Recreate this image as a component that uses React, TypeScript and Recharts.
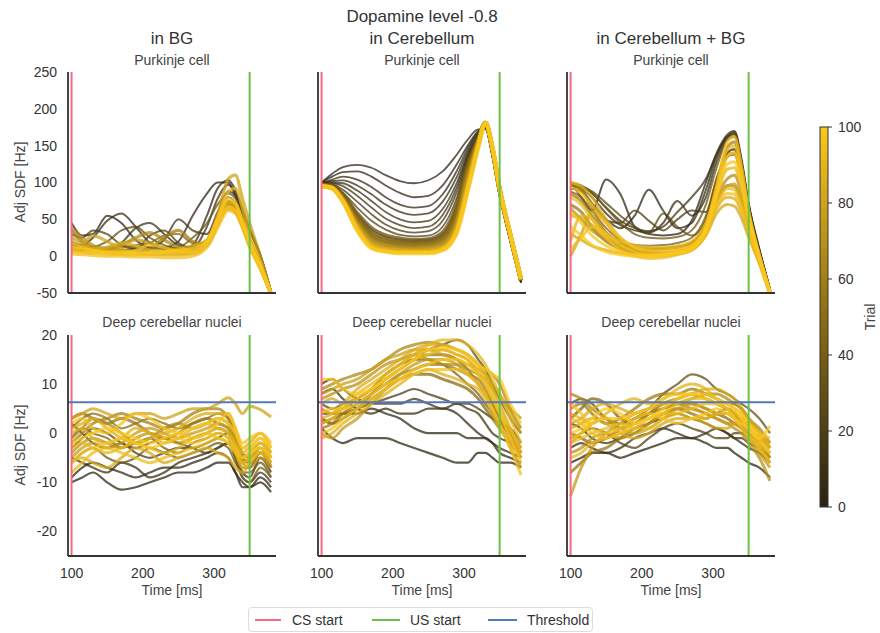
import React from "react";
import { LineChart, Line, XAxis, YAxis, ReferenceLine } from "recharts";

// sample times (ms) shared by every trial curve
const time = [100, 115, 130, 150, 170, 190, 210, 230, 250, 270, 290, 305, 320, 330, 340, 350, 365, 380];

// ---- Purkinje cell, dopamine in BG
const bgPurkinjeTrials = [2, 6, 10, 14, 20, 30, 45, 60, 70, 80, 88, 92, 95, 100, 85, 97, 75, 65, 35];
const bgPurkinje = [
  [45, 28, 30, 55, 45, 22, 12, 12, 20, 55, 85, 100, 100, 82, 60, 35, 0, -48],
  [20, 15, 25, 48, 58, 40, 18, 10, 8, 15, 55, 92, 103, 90, 65, 38, 2, -48],
  [10, 12, 10, 8, 18, 38, 45, 30, 15, 12, 40, 78, 97, 85, 62, 35, 0, -48],
  [15, 12, 8, 6, 8, 10, 12, 22, 50, 35, 30, 60, 88, 82, 60, 35, 0, -48],
  [30, 25, 35, 30, 15, 10, 28, 35, 18, 10, 22, 55, 80, 72, 50, 22, -10, -50],
  [12, 10, 12, 20, 35, 40, 25, 15, 10, 10, 20, 50, 75, 68, 45, 18, -12, -50],
  [15, 12, 10, 10, 12, 15, 18, 28, 30, 18, 18, 48, 72, 65, 44, 18, -14, -50],
  [35, 20, 12, 8, 6, 5, 10, 25, 35, 20, 15, 45, 70, 62, 40, 15, -15, -52],
  [38, 25, 15, 10, 8, 6, 5, 6, 6, 6, 15, 45, 70, 65, 44, 18, -14, -52],
  [5, 15, 28, 20, 10, 5, 3, 3, 3, 5, 18, 55, 105, 110, 78, 45, 0, -50],
  [8, 6, 5, 4, 3, 3, 2, 2, 2, 3, 15, 42, 68, 62, 42, 15, -15, -52],
  [20, 12, 8, 5, 4, 8, 15, 12, 6, 5, 18, 52, 88, 92, 65, 30, -8, -50],
  [3, 2, 1, 0, 0, -1, -1, -2, -2, 0, 12, 38, 62, 58, 38, 12, -18, -52],
  [12, 10, 8, 6, 6, 5, 5, 6, 8, 10, 20, 50, 78, 72, 48, 20, -12, -50],
  [15, 12, 10, 12, 18, 14, 8, 6, 10, 14, 22, 50, 74, 70, 46, 18, -13, -51],
  [6, 5, 4, 3, 2, 2, 3, 4, 5, 6, 16, 44, 66, 62, 42, 16, -15, -52],
  [25, 18, 10, 8, 15, 22, 18, 10, 8, 8, 18, 48, 72, 68, 45, 18, -13, -51],
  [10, 9, 8, 10, 15, 25, 32, 22, 12, 8, 15, 45, 65, 60, 40, 14, -16, -52],
  [8, 8, 9, 12, 14, 12, 10, 10, 12, 25, 45, 70, 85, 78, 55, 25, -8, -50],
];

// ---- Purkinje cell, dopamine in cerebellum
const cbPurkinjeTrials = [1, 3, 5, 7, 9, 12, 15, 20, 30, 45, 60, 75, 88, 100, 38, 52, 68, 82, 94];
const cbPurkinje = [
  [100, 112, 121, 124, 120, 110, 102, 99, 103, 115, 138, 158, 172, 172, 135, 82, 20, -36],
  [100, 108, 114, 115, 108, 96, 86, 80, 82, 96, 125, 150, 170, 174, 136, 83, 21, -36],
  [99, 104, 108, 104, 94, 80, 70, 66, 68, 84, 116, 146, 168, 176, 138, 84, 22, -35],
  [99, 102, 103, 96, 84, 70, 60, 56, 58, 74, 108, 142, 167, 177, 139, 85, 23, -35],
  [98, 100, 99, 89, 75, 60, 50, 46, 48, 64, 100, 138, 165, 178, 140, 86, 24, -34],
  [98, 99, 95, 82, 66, 51, 42, 38, 40, 56, 94, 136, 164, 179, 141, 88, 25, -34],
  [97, 97, 90, 74, 57, 43, 35, 32, 34, 48, 88, 134, 163, 179, 142, 88, 26, -33],
  [97, 96, 86, 66, 48, 36, 29, 27, 28, 40, 80, 130, 162, 180, 143, 89, 27, -33],
  [96, 95, 83, 58, 38, 28, 24, 22, 23, 32, 70, 124, 160, 180, 143, 89, 27, -33],
  [96, 94, 80, 52, 30, 21, 18, 17, 18, 25, 60, 118, 158, 180, 144, 90, 28, -32],
  [96, 93, 78, 46, 24, 16, 13, 12, 13, 18, 50, 110, 156, 181, 145, 90, 28, -32],
  [95, 93, 76, 42, 18, 11, 9, 8, 9, 13, 42, 100, 153, 181, 146, 91, 29, -32],
  [95, 92, 75, 38, 14, 8, 6, 6, 6, 10, 36, 92, 150, 181, 147, 92, 30, -31],
  [95, 92, 74, 35, 11, 6, 4, 4, 4, 8, 32, 88, 148, 180, 148, 93, 30, -31],
  [96, 95, 82, 55, 34, 25, 21, 20, 21, 28, 65, 121, 159, 180, 143, 89, 27, -33],
  [96, 94, 79, 49, 27, 19, 16, 15, 16, 22, 55, 114, 157, 180, 144, 90, 28, -32],
  [95, 93, 77, 44, 21, 14, 11, 10, 11, 16, 46, 105, 155, 181, 145, 90, 28, -32],
  [95, 92, 75, 40, 16, 10, 8, 7, 8, 12, 39, 96, 152, 181, 146, 91, 29, -31],
  [95, 92, 74, 36, 12, 7, 5, 5, 5, 9, 34, 90, 149, 181, 147, 92, 30, -31],
];

// ---- Purkinje cell, dopamine in cerebellum + BG
const bothPurkinjeTrials = [2, 5, 9, 13, 18, 25, 40, 55, 68, 78, 82, 86, 90, 93, 97, 100, 60, 72, 88, 95, 99, 35];
const bothPurkinje = [
  [100, 80, 62, 104, 84, 40, 30, 28, 30, 48, 100, 140, 165, 170, 132, 72, 10, -45],
  [98, 90, 72, 50, 38, 55, 90, 62, 38, 45, 90, 135, 162, 168, 128, 70, 8, -45],
  [96, 92, 80, 58, 42, 35, 32, 45, 75, 55, 80, 128, 158, 162, 124, 68, 8, -46],
  [95, 94, 85, 66, 48, 38, 34, 40, 60, 80, 105, 138, 162, 166, 128, 70, 8, -45],
  [92, 88, 70, 48, 45, 62, 48, 35, 50, 62, 60, 100, 140, 145, 110, 60, 4, -47],
  [97, 95, 88, 72, 55, 40, 32, 58, 40, 28, 50, 105, 135, 138, 108, 58, 5, -47],
  [88, 80, 62, 38, 22, 15, 14, 15, 18, 25, 55, 105, 140, 145, 110, 58, 2, -48],
  [70, 60, 40, 20, 10, 6, 8, 10, 12, 18, 45, 95, 135, 140, 105, 55, 0, -48],
  [100, 90, 65, 30, 12, 5, 3, 4, 6, 12, 38, 80, 105, 110, 85, 45, -2, -50],
  [0, 30, 60, 45, 20, 8, 4, 4, 5, 10, 35, 75, 95, 98, 75, 40, -4, -50],
  [30, 22, 14, 8, 4, 2, 2, 3, 5, 9, 28, 58, 70, 68, 52, 26, -10, -52],
  [55, 52, 42, 25, 10, 2, 0, 1, 3, 8, 30, 65, 80, 78, 60, 30, -8, -52],
  [20, 55, 50, 30, 20, 15, 12, 12, 14, 20, 45, 85, 118, 120, 92, 48, -4, -50],
  [80, 70, 50, 25, 8, 0, -3, -2, 2, 8, 32, 70, 92, 90, 70, 36, -5, -50],
  [95, 85, 70, 45, 25, 12, 8, 8, 10, 15, 40, 95, 155, 162, 122, 62, 2, -47],
  [40, 28, 15, 6, 2, 0, 0, 2, 4, 10, 36, 85, 135, 140, 105, 54, -2, -50],
  [85, 75, 55, 32, 18, 12, 10, 10, 12, 18, 42, 92, 148, 155, 116, 60, 2, -48],
  [65, 50, 35, 22, 14, 8, 5, 3, 4, 10, 32, 72, 96, 95, 72, 38, -5, -50],
  [100, 95, 80, 50, 25, 12, 6, 5, 8, 14, 40, 90, 145, 150, 112, 58, 0, -48],
  [10, 25, 40, 30, 15, 6, 2, 2, 4, 9, 30, 68, 85, 84, 64, 33, -6, -52],
  [60, 45, 28, 14, 6, 2, 1, 3, 6, 12, 38, 80, 125, 128, 96, 50, -3, -50],
  [99, 96, 86, 65, 45, 30, 25, 24, 26, 35, 70, 120, 158, 165, 125, 66, 6, -46],
];

// ---- Deep cerebellar nuclei, dopamine in BG
const bgNucleiTrials = [2, 5, 10, 15, 22, 35, 40, 50, 62, 72, 80, 84, 88, 94, 97, 100, 66, 76, 86, 91, 99, 56];
const bgNuclei = [
  [-10, -9, -8, -10, -11.5, -11, -10, -9, -8, -8, -7, -6, -6, -8, -11, -11, -10, -12],
  [-9, -7, -6, -7, -8, -9, -8, -7, -7, -6, -5, -4, -5, -8, -10, -11, -9, -11],
  [-5, -6, -7, -8, -6, -7, -9, -8, -6, -5, -4, -3, -2, -5, -9, -10, -8, -10],
  [2, 0, -2, -3, -2, -4, -5, -4, -3, -3, -2, -1, 0, -3, -8, -9, -5, -8],
  [-3, -1, 1, 0, -2, -3, -2, -1, -2, -3, -4, -3, -2, -4, -7, -7, -4, -6],
  [-6, -4, -3, -5, -6, -5, -3, -4, -5, -4, -3, -2, -3, -6, -8, -8, -6, -9],
  [-1, 1, 0, -1, -3, -2, -1, -3, -4, -2, -1, 0, -1, -5, -9, -10, -7, -9],
  [1, 3, 4, 3, 1, 2, 3, 2, 1, 2, 3, 4, 3, 0, -4, -5, -3, -5],
  [-2, 0, 2, 3, 4, 3, 2, 1, 2, 4, 5, 5, 3, -1, -5, -6, -4, -6],
  [-4, -2, -1, -2, -3, -1, 0, -1, -2, -1, 0, 1, 0, -3, -6, -7, -5, -7],
  [3, 4, 5, 4, 3, 4, 4, 3, 4, 5, 5, 6, 7.2, 6, 4, 5.5, 4.8, 3.3],
  [-6, -5, -6, -7, -5, -3, -4, -6, -5, -4, -3, -4, -5, -7, -8, -6, -3, -5],
  [0, 1, -1, -2, -1, 1, 0, -2, -1, 1, 2, 1, 0, -2, -4, -3, -1, -4],
  [-8, -6, -4, -3, -4, -5, -6, -5, -4, -3, -2, -1, -2, -4, -7, -6, -4, -6],
  [2, 3, 1, 0, 2, 4, 3, 1, 0, -1, 0, 2, 4, 1, -2, -1, 0, -2],
  [-2, -1, 0, 1, 0, -1, -2, -1, 0, 1, 2, 3, 2, 0, -3, -3, -1, -3],
  [-1, 1, 3, 2, 0, -2, -1, 1, 2, 1, 2, 3, 2, -2, -6, -5, -3, -7],
  [-5, -3, -2, -3, -2, 0, 1, 0, -1, 0, 1, 2, 1, -2, -5, -4, -2, -5],
  [1, 2, 3, 1, -1, -2, -1, 0, 1, 3, 4, 4, 4, 1, -3, -2, 0, -3],
  [-3, -2, -3, -4, -3, -2, -3, -4, -3, -1, 0, -1, -2, -4, -6, -5, -2, -4],
  [-6, -4, -3, -2, -1, -2, -3, -2, -1, -2, -1, 0, -1, -3, -5, -4, -3, -5],
  [3, 4, 3, 2, 3, 2, 0, -1, 0, 2, 3, 2, 1, -2, -5, -6, -4, -7],
];

// ---- Deep cerebellar nuclei, dopamine in cerebellum
const cbNucleiTrials = [2, 5, 9, 13, 18, 25, 40, 55, 65, 70, 75, 82, 87, 90, 95, 100, 60, 78, 85, 92, 97, 48];
const cbNuclei = [
  [1, -1, -2, -1, -1, -1, -2, -3, -4, -5, -6, -6, -4, -4, -5, -6, -6, -7],
  [4, 4, 4, 4, 5, 4, 3, 1, 0, 0, 0, -1, -1, -1, -2, -4, -5, -6],
  [8, 9, 7, 5, 4, 5, 4, 4, 5, 5, 4, 2, 0, -1, -2, -3, -4, -5],
  [10, 11, 9, 7, 6, 6, 6, 7, 6, 5, 6, 5, 4, 2, 0, -1, -2, -4],
  [3, 2, 3, 5, 6, 7, 8, 9, 8, 7, 6, 6, 5, 4, 3, 2, 1, -2],
  [6, 5, 6, 7, 9, 11, 13, 15, 17, 18, 19, 18, 15, 13, 10, 7, 3, 0],
  [5, 4, 5, 7, 9, 12, 14, 15, 15, 14, 12, 10, 8, 6, 4, 2, 0, -3],
  [3, 2, 3, 5, 8, 11, 13, 15, 16, 16, 15, 13, 10, 8, 6, 3, 0, -4],
  [9, 10, 11, 12, 13, 15, 17, 18, 18.5, 18, 17, 16, 14, 13, 12, 10, 5, 1],
  [7, 8, 9, 10, 12, 14, 15, 16, 15, 14, 14, 13, 12, 11, 9, 7, 5, 3],
  [0, -1, 1, 3, 6, 9, 12, 14, 15, 15, 14, 12, 10, 8, 5, 2, -3, -7],
  [6, 7, 6, 7, 9, 12, 14, 16, 17, 17, 16, 15, 12, 10, 7, 4, 0, -5],
  [-1, 0, 2, 4, 6, 8, 10, 12, 13, 12, 11, 10, 9, 7, 4, 1, -2, -5],
  [2, 3, 5, 8, 10, 12, 14, 16, 18, 19, 19, 18, 16, 14, 11, 8, 3, -2],
  [4, 5, 5, 6, 8, 10, 11, 12, 13, 13, 13, 12, 10, 8, 5, 2, -3, -8.5],
  [11, 11, 9, 8, 9, 11, 13, 15, 17, 17.5, 17, 16, 14, 13, 12, 11, 6, 2],
  [1, 2, 4, 6, 8, 10, 12, 13, 14, 14, 13, 12, 11, 9, 6, 3, -1, -4],
  [8, 9, 10, 11, 13, 15, 16, 17, 17, 16, 15, 14, 13, 12, 10, 8, 4, 0],
  [3, 4, 6, 9, 11, 13, 15, 17, 18, 18, 17, 16, 14, 12, 9, 6, 1, -3],
  [5, 4, 5, 7, 9, 11, 13, 15, 16, 17, 16, 15, 13, 11, 8, 5, 1, -4],
  [0, 1, 3, 5, 7, 9, 11, 13, 14, 15, 15, 14, 12, 10, 7, 4, -1, -6],
  [2, 3, 4, 5, 7, 9, 11, 12, 12, 11, 10, 9, 7, 5, 3, 1, -2, -5],
];

// ---- Deep cerebellar nuclei, dopamine in cerebellum + BG
const bothNucleiTrials = [3, 8, 14, 22, 30, 45, 55, 65, 70, 75, 82, 88, 93, 97, 100, 50, 60, 78, 85, 90, 95, 99];
const bothNuclei = [
  [-6, -5, -4, -4, -5, -4, -3, -2, -1, -1, -2, -3, -3, -4, -5, -6, -7, -9],
  [-3, -2, -3, -4, -3, -1, 0, 1, 0, -1, 0, 1, 0, -1, -2, -3, -4, -6],
  [2, 1, -1, -2, -1, 0, 2, 3, 4, 3, 2, 1, 0, -1, -1, -2, -3, -5],
  [-1, 0, 1, 0, -2, -3, -1, 1, 2, 1, 0, -1, -1, 0, 0, -1, -3, -6],
  [6, 7, 6, 3, 2, 3, 5, 8, 10, 12, 11, 9, 8, 7, 6, 5, 3, 0],
  [3, 5, 7, 6, 3, 2, 4, 6, 7, 8, 7, 6, 5, 4, 3, 1, -1, -3],
  [-8, -6, -4, -3, -1, 1, 2, 4, 5, 4, 3, 4, 5, 4, 2, 0, -2, -5],
  [8, 7, 5, 3, 1, 2, 4, 5, 6, 7, 8, 8, 7, 6, 5, 3, 1, -2],
  [-4, -3, -1, 0, -1, 0, 2, 4, 5, 5, 4, 3, 2, 1, 0, -2, -5, -9.7],
  [-12.8, -7, -3, 0, 2, 4, 5, 6, 6, 5, 4, 3, 2, 2, 1, -1, -4, -7],
  [1, 2, 3, 2, 0, -1, 0, 2, 3, 3, 2, 1, 1, 2, 3, 2, 0, -2],
  [4, 3, 2, 4, 6, 7, 6, 7, 9, 10, 9, 7, 6, 5, 4, 2, 0, -3],
  [-2, -1, 0, 1, 2, 1, 1, 3, 4, 5, 6, 6, 5, 3, 1, -1, -3, -6],
  [6, 4, 1, 0, 1, 3, 4, 3, 2, 3, 4, 5, 4, 3, 2, 1, -2, -4],
  [0, 1, 3, 5, 4, 2, 3, 5, 7, 8, 8, 7, 6, 5, 3, 1, -1, 1.5],
  [0, -1, -2, -1, 1, 3, 4, 5, 6, 6, 5, 4, 3, 2, 1, 0, -2, -4],
  [5, 6, 4, 2, 3, 5, 7, 8, 8, 9, 8, 7, 6, 6, 5, 3, 0, -3],
  [-2, 0, 2, 3, 1, 0, 1, 3, 5, 6, 5, 4, 4, 3, 2, 0, -2, -5],
  [2, 3, 5, 6, 5, 4, 5, 6, 7, 8, 9, 9, 8, 7, 5, 3, 0, -3],
  [-5, -4, -2, -1, 0, 1, 3, 4, 4, 3, 3, 4, 4, 3, 2, 0, -3, -6],
  [3, 2, 0, -1, 0, 2, 3, 4, 6, 7, 7, 6, 5, 4, 3, 2, 0, -1],
  [-1, 0, 2, 3, 3, 4, 5, 7, 8, 8, 7, 6, 6, 5, 4, 2, -1, -4],
];

const csStart = 100;
const usStart = 350;
const threshold = 6.3;
const colorbarTicks = [0, 20, 40, 60, 80, 100];
const purkinjeTicks = [-50, 0, 50, 100, 150, 200, 250];
const nucleiTicks = [-20, -10, 0, 10, 20];
const timeTicks = [100, 200, 300];

const FONT = "'Liberation Sans', Arial, sans-serif";
const CS_COLOR = "#f26b82";
const US_COLOR = "#6cc04a";
const TH_COLOR = "#5577bb";
const AXIS_COLOR = "#333";

const cmapStops: [number, number[]][] = [
  [0, [40, 34, 20]],
  [0.5, [140, 108, 20]],
  [1, [252, 200, 30]],
];

function trialColor(trial: number) {
  const f = Math.max(0, Math.min(1, trial / 100));
  let i = 0;
  while (i < cmapStops.length - 2 && f > cmapStops[i + 1][0]) i++;
  const [f0, c0] = cmapStops[i];
  const [f1, c1] = cmapStops[i + 1];
  const k = (f - f0) / (f1 - f0);
  const c = c0.map((v, j) => Math.round(v + (c1[j] - v) * k));
  return `rgb(${c[0]},${c[1]},${c[2]})`;
}

const PLOT_W = 208;
const PLOT_H = 221;
const Y_W = 60;

interface PanelProps {
  left: number;
  top: number;
  curves: number[][];
  trials: number[];
  yDomain: [number, number];
  yTicks: number[];
  showY: boolean;
  showX: boolean;
  withThreshold: boolean;
  thickFrom: number;
  thin: number;
  thick: number;
}

function Panel(props: PanelProps) {
  const { left, top, curves, trials, yDomain, yTicks, showY, showX, withThreshold, thickFrom, thin, thick } = props;
  const data = time.map((t, i) => {
    const row: any = { t };
    curves.forEach((c, j) => (row["c" + j] = c[i]));
    return row;
  });
  // later trials are drawn on top
  const order = trials.map((_, j) => j).sort((a, b) => trials[a] - trials[b]);
  const tickStyle = { fill: "#333", fontSize: 14, fontFamily: FONT };

  return (
    <div style={{ position: "absolute", left: left - Y_W, top: top - 10 }}>
      <LineChart
        width={Y_W + PLOT_W + 10}
        height={10 + PLOT_H + 30}
        data={data}
        margin={{ top: 10, right: 10, bottom: 0, left: 0 }}
      >
        <XAxis
          type="number"
          dataKey="t"
          domain={[95, 387]}
          ticks={timeTicks}
          allowDataOverflow
          height={30}
          tickLine={false}
          tickSize={10}
          tickMargin={2}
          tick={showX ? tickStyle : false}
          axisLine={{ stroke: AXIS_COLOR, strokeWidth: 1.8 }}
        />
        <YAxis
          type="number"
          domain={yDomain}
          ticks={yTicks}
          allowDataOverflow
          width={Y_W}
          tickLine={false}
          tickSize={8}
          tickMargin={3}
          tick={showY ? tickStyle : false}
          axisLine={{ stroke: AXIS_COLOR, strokeWidth: 1.8 }}
        />
        {order.map((j) => (
          <Line
            key={j}
            dataKey={"c" + j}
            type="monotone"
            stroke={trialColor(trials[j])}
            strokeOpacity={0.75}
            strokeWidth={trials[j] >= thickFrom ? thick : thin}
            dot={false}
            activeDot={false}
            isAnimationActive={false}
          />
        ))}
        <ReferenceLine x={csStart} stroke={CS_COLOR} strokeWidth={2} />
        <ReferenceLine x={usStart} stroke={US_COLOR} strokeWidth={2} />
        {withThreshold && <ReferenceLine y={threshold} stroke={TH_COLOR} strokeWidth={2} />}
      </LineChart>
    </div>
  );
}

const colLefts = [68, 318, 567];
const colTitles = ["in BG", "in Cerebellum", "in Cerebellum + BG"];
const TOP_ROW = 72;
const BOTTOM_ROW = 335;

export default function App() {
  const cbTop = 127;
  const cbBottom = 507;
  const cbY = (v: number) => cbBottom - ((cbBottom - cbTop) * v) / 100;
  const gradStops = [0, 0.25, 0.5, 0.75, 1];

  return (
    <div
      style={{
        position: "absolute",
        left: 0,
        top: 0,
        width: 880,
        height: 633,
        background: "#fff",
        fontFamily: FONT,
        overflow: "hidden",
      }}
    >
      <Panel left={colLefts[0]} top={TOP_ROW} curves={bgPurkinje} trials={bgPurkinjeTrials}
        yDomain={[-50, 250]} yTicks={purkinjeTicks} showY showX={false} withThreshold={false}
        thickFrom={60} thin={2} thick={3.2} />
      <Panel left={colLefts[1]} top={TOP_ROW} curves={cbPurkinje} trials={cbPurkinjeTrials}
        yDomain={[-50, 250]} yTicks={purkinjeTicks} showY={false} showX={false} withThreshold={false}
        thickFrom={25} thin={1.8} thick={4.2} />
      <Panel left={colLefts[2]} top={TOP_ROW} curves={bothPurkinje} trials={bothPurkinjeTrials}
        yDomain={[-50, 250]} yTicks={purkinjeTicks} showY={false} showX={false} withThreshold={false}
        thickFrom={50} thin={2} thick={3} />
      <Panel left={colLefts[0]} top={BOTTOM_ROW} curves={bgNuclei} trials={bgNucleiTrials}
        yDomain={[-25, 20]} yTicks={nucleiTicks} showY showX withThreshold
        thickFrom={55} thin={2.2} thick={3} />
      <Panel left={colLefts[1]} top={BOTTOM_ROW} curves={cbNuclei} trials={cbNucleiTrials}
        yDomain={[-25, 20]} yTicks={nucleiTicks} showY={false} showX withThreshold
        thickFrom={45} thin={2.2} thick={3} />
      <Panel left={colLefts[2]} top={BOTTOM_ROW} curves={bothNuclei} trials={bothNucleiTrials}
        yDomain={[-25, 20]} yTicks={nucleiTicks} showY={false} showX withThreshold
        thickFrom={45} thin={2.2} thick={3} />

      <svg width={880} height={633} style={{ position: "absolute", left: 0, top: 0, pointerEvents: "none" }}>
        <defs>
          <linearGradient id="trialGrad" x1="0" y1="1" x2="0" y2="0">
            {gradStops.map((s) => (
              <stop key={s} offset={s} stopColor={trialColor(s * 100)} />
            ))}
          </linearGradient>
        </defs>
        <g fontFamily={FONT} fill="#333">
          <text x={422} y={22} fontSize={17} textAnchor="middle">Dopamine level -0.8</text>
          {colLefts.map((l, i) => (
            <g key={i}>
              <text x={l + PLOT_W / 2} y={44} fontSize={17} textAnchor="middle">{colTitles[i]}</text>
              <text x={l + PLOT_W / 2} y={65} fontSize={14} fill="#444" textAnchor="middle">Purkinje cell</text>
              <text x={l + PLOT_W / 2} y={327} fontSize={14} fill="#444" textAnchor="middle">Deep cerebellar nuclei</text>
              <text x={l + PLOT_W / 2} y={595} fontSize={14} fill="#444" textAnchor="middle">Time [ms]</text>
            </g>
          ))}
          <text x={20} y={182} fontSize={14} fill="#444" textAnchor="middle" dominantBaseline="central"
            transform="rotate(-90, 20, 182)">Adj SDF [Hz]</text>
          <text x={20} y={445} fontSize={14} fill="#444" textAnchor="middle" dominantBaseline="central"
            transform="rotate(-90, 20, 445)">Adj SDF [Hz]</text>

          {/* colorbar */}
          <rect x={820} y={cbTop} width={8} height={cbBottom - cbTop} fill="url(#trialGrad)" stroke="#333" strokeWidth={1} />
          {colorbarTicks.map((v) => (
            <g key={v}>
              <line x1={828} x2={832} y1={cbY(v)} y2={cbY(v)} stroke="#333" strokeWidth={1} />
              <text x={838} y={cbY(v)} fontSize={14} dominantBaseline="central">{v}</text>
            </g>
          ))}
          <text x={870} y={317} fontSize={14} fill="#444" textAnchor="middle" dominantBaseline="central"
            transform="rotate(-90, 870, 317)">Trial</text>

          {/* legend */}
          <rect x={248.5} y={607.5} width={344} height={24} rx={3} fill="#fff" stroke="#ddd" strokeWidth={1} />
          <line x1={255} x2={281} y1={620} y2={620} stroke={CS_COLOR} strokeWidth={2} />
          <text x={292} y={620} fontSize={14} dominantBaseline="central">CS start</text>
          <line x1={372} x2={400} y1={620} y2={620} stroke={US_COLOR} strokeWidth={2} />
          <text x={410} y={620} fontSize={14} dominantBaseline="central">US start</text>
          <line x1={488} x2={517} y1={620} y2={620} stroke={TH_COLOR} strokeWidth={2} />
          <text x={527} y={620} fontSize={14} dominantBaseline="central">Threshold</text>
        </g>
      </svg>
    </div>
  );
}
